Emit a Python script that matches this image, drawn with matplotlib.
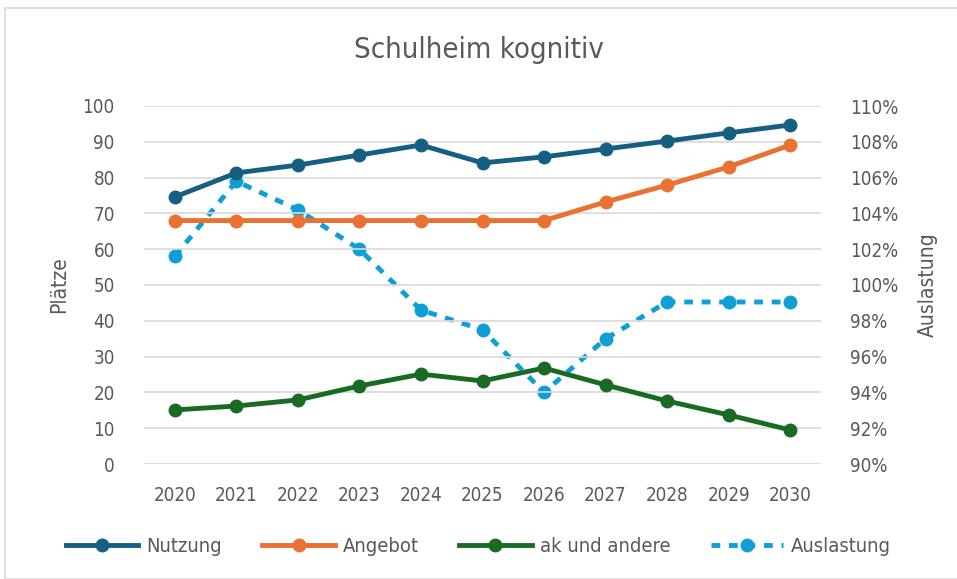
import matplotlib
matplotlib.use("Agg")
import matplotlib.pyplot as plt
from matplotlib.ticker import FuncFormatter
from matplotlib.patches import Rectangle

plt.rcParams['font.family'] = ['DejaVu Sans']
plt.rcParams['font.stretch'] = 'condensed'

# Daten
jahre = [2020, 2021, 2022, 2023, 2024, 2025, 2026, 2027, 2028, 2029, 2030]
nutzung = [74.6, 81.3, 83.5, 86.3, 89.1, 84.1, 85.8, 88.0, 90.2, 92.5, 94.7]
angebot = [68, 68, 68, 68, 68, 68, 68, 73.2, 77.9, 83.0, 89.1]
ak_und_andere = [15.1, 16.2, 17.9, 21.8, 25.1, 23.2, 26.8, 22.1, 17.6, 13.7, 9.5]
auslastung = [101.6, 105.8, 104.2, 102.0, 98.6, 97.5, 94.0, 97.0, 99.05, 99.05, 99.05]

grau = '#595959'
fig = plt.figure(figsize=(9.57, 5.79), dpi=100)
fig.patches.append(Rectangle((5 / 957, 0), 1, 1 - 8 / 579, transform=fig.transFigure,
                             fill=False, edgecolor='#d9d9d9', linewidth=1.2))

ax1 = fig.add_axes([144 / 957, 1 - 464 / 579, (821 - 144) / 957, (464 - 106) / 579])
ax2 = ax1.twinx()

x = list(range(len(jahre)))
l1, = ax1.plot(x, nutzung, color='#156082', lw=3.5, marker='o', ms=9, label='Nutzung')
l2, = ax1.plot(x, angebot, color='#E97132', lw=3.5, marker='o', ms=9, label='Angebot')
l3, = ax1.plot(x, ak_und_andere, color='#196B24', lw=3.5, marker='o', ms=9, label='ak und andere')
l4, = ax2.plot(x, auslastung, color='#0F9ED5', lw=3.5, ls=(0, (1.8, 1.8)), marker='o', ms=9,
               label='Auslastung')

ax1.set_zorder(ax2.get_zorder() + 1)
ax1.patch.set_visible(False)

ax1.set_xlim(-0.5, len(jahre) - 0.5)
ax1.set_ylim(0, 100)
ax1.set_yticks(range(0, 101, 10))
ax2.set_ylim(90, 110)
ax2.set_yticks(range(90, 111, 2))
ax2.yaxis.set_major_formatter(FuncFormatter(lambda v, p: f'{v:.0f}%'))
ax1.set_xticks(x)
ax1.set_xticklabels([str(j) for j in jahre])

ax1.grid(axis='y', color='#d9d9d9', lw=1.2)
ax1.set_axisbelow(True)
for a in (ax1, ax2):
    for s in a.spines.values():
        s.set_visible(False)
    a.tick_params(length=0, labelsize=13.5, colors=grau, pad=21)
ax1.tick_params(axis='x', pad=16)

ax1.set_ylabel('Plätze', fontsize=15, color=grau, labelpad=10)
ax2.set_ylabel('Auslastung', fontsize=15, color=grau, labelpad=14)
fig.text(0.5, 1 - 50 / 579, 'Schulheim kognitiv', ha='center', va='center',
         fontsize=21, color=grau)

fig.legend(handles=[l1, l2, l3, l4], loc='center', bbox_to_anchor=(0.5, 1 - 547 / 579),
           ncol=4, frameon=False, fontsize=14.5, labelcolor=grau, handlelength=3.6,
           handletextpad=0.4, columnspacing=2.0)

fig.savefig('out.png', dpi=100)
